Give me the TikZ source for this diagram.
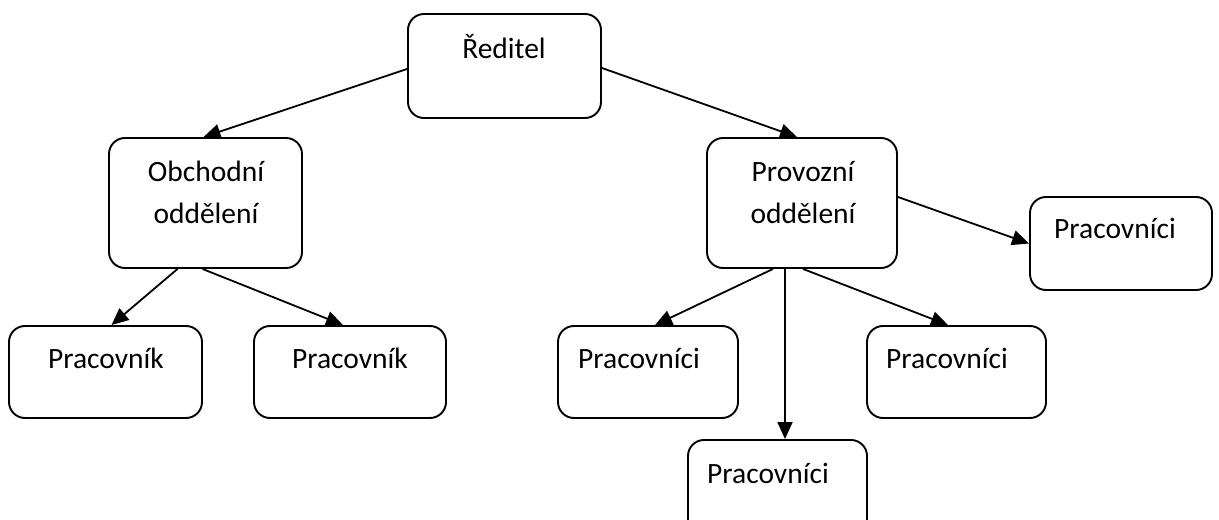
\documentclass[tikz,border=0pt]{standalone}
\usepackage{fontspec}
\setmainfont{Carlito}
\usetikzlibrary{arrows.meta,calc}
\begin{document}
\begin{tikzpicture}[x=1bp,y=-1bp,
  box/.style={draw=black,line width=1.9bp,rounded corners=16bp,inner sep=0pt,minimum width=#1},
  lbl/.style={inner sep=0pt,anchor=base,font=\fontsize{29.5bp}{42bp}\selectfont},
  conn/.style={line width=1.8bp,-{Triangle[length=17bp,width=15bp]}}]
\fill[white] (0,0) rectangle (1219,520);
\useasboundingbox (0,0) rectangle (1219,520);
\clip (0,0) rectangle (1219,520);
% boxes
\node[box=193bp,minimum height=104bp] (dir)  at (504.5,66) {};
\node[box=193bp,minimum height=130bp] (obch) at (205.5,203) {};
\node[box=190bp,minimum height=130bp] (prov) at (802,203) {};
\node[box=182bp,minimum height=93bp]  (prr)  at (1121,243.5) {};
\node[box=193bp,minimum height=92bp]  (p1)   at (105.5,372) {};
\node[box=192bp,minimum height=92bp]  (p2)   at (350,372) {};
\node[box=180bp,minimum height=92bp]  (p3)   at (648,372) {};
\node[box=179bp,minimum height=92bp]  (p4)   at (956.5,372) {};
\node[box=179bp,minimum height=100bp] (p5)   at (777.5,490) {};
% texts
\node[lbl] (tdir) at (504,59) {Ředitel};
\node[lbl] (tobch1) at (206,182) {Obchodní};
\node[lbl] (tobch2) at (206,224) {oddělení};
\node[lbl] (tprov1) at (803,182) {Provozní};
\node[lbl] (tprov2) at (803,224) {oddělení};
\node[lbl] (tprr) at (1115,239) {Pracovníci};
\node[lbl] (tp1) at (106,369) {Pracovník};
\node[lbl] (tp2) at (350,369) {Pracovník};
\node[lbl] (tp3) at (639,369) {Pracovníci};
\node[lbl] (tp4) at (947,369) {Pracovníci};
\node[lbl] (tp5) at (768,483) {Pracovníci};
% connectors
\draw[conn] ($(dir.west)+(0,3)$) -- ($(obch.north)+(-2,0)$);
\draw[conn] ($(dir.east)+(0,2)$) -- ($(prov.north)+(-5,0)$);
\draw[conn] ($(prov.east)+(0,-6)$) -- (prr.west);
\draw[conn] ($(obch.south)+(-28,0)$) -- ($(p1.north)+(6,0)$);
\draw[conn] ($(obch.south)+(-3,0)$) -- ($(p2.north)+(-7,0)$);
\draw[conn] ($(prov.south)+(-29,0)$) -- ($(p3.north)+(7,0)$);
\draw[conn] ($(prov.south)+(-17,0)$) -- ($(p5.north)+(7.5,0)$);
\draw[conn] ($(prov.south)+(1,0)$) -- ($(p4.north)+(-8.5,0)$);
\end{tikzpicture}
\end{document}
